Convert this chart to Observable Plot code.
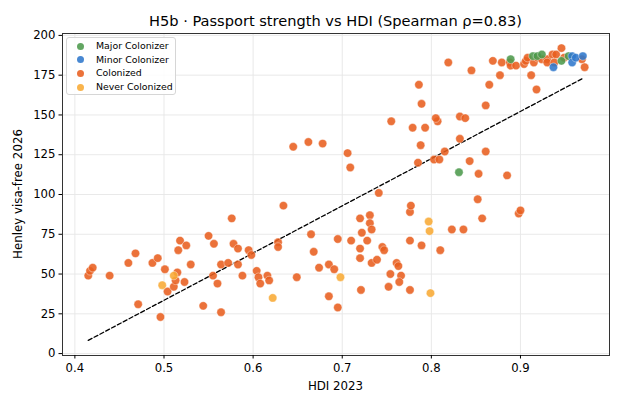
<!DOCTYPE html>
<html>
<head>
<meta charset="utf-8">
<script src="https://cdn.jsdelivr.net/npm/d3@7"></script>
<script src="https://cdn.jsdelivr.net/npm/@observablehq/plot@0.6"></script>
<style>
  html, body { margin: 0; padding: 0; background: #fff; }
  #wrap { position: relative; width: 620px; height: 407px; font-family: "DejaVu Sans", sans-serif; color: #000; }
  #title { position: absolute; left: 335.5px; top: 20px; transform: translate(-50%, -50%); font-size: 14.6px; white-space: nowrap; }
  #chart { position: absolute; left: 0; top: 28px; }
  #xlab { position: absolute; left: 335.5px; top: 386px; transform: translate(-50%, -50%); font-size: 11.8px; white-space: nowrap; }
  #ylab { position: absolute; left: 18px; top: 194px; transform: translate(-50%, -50%) rotate(-90deg); font-size: 11.8px; white-space: nowrap; }
  #legend { position: absolute; left: 66px; top: 37px; width: 110px; height: 58px; box-sizing: border-box; border: 1px solid #d6d6d6; border-radius: 3px; background: rgba(255,255,255,0.85); font-size: 9.4px; }
  .row { position: absolute; left: 0; height: 12px; line-height: 12px; white-space: nowrap; }
  .sw { position: absolute; left: 10px; top: 2.5px; width: 7px; height: 7px; border-radius: 50%; opacity: 0.88; }
  .lt { position: absolute; left: 29px; top: 0; }
</style>
</head>
<body>
<div id="wrap">
  <div id="title">H5b · Passport strength vs HDI (Spearman ρ=0.83)</div>
  <div id="chart"></div>
  <div id="xlab">HDI 2023</div>
  <div id="ylab">Henley visa-free 2026</div>
  <div id="legend"></div>
</div>
<script>
// ---- data ----
const groups = ["Major Colonizer", "Minor Colonizer", "Colonized", "Never Colonized"];
const groupColors = ["#4c9a4c", "#2f78cc", "#e85f1f", "#f8aa34"];

const hdiMajor  = [0.889, 0.914, 0.919, 0.924, 0.946, 0.954, 0.831];
const visaMajor = [185, 187, 187, 188, 184, 187, 114];

const hdiMinor  = [0.937, 0.958, 0.958, 0.962, 0.970];
const visaMinor = [180, 187, 183, 186, 187];

const hdiNever  = [0.498, 0.511, 0.622, 0.698, 0.797, 0.798, 0.799];
const visaNever = [43, 49, 35, 48, 83, 77, 38];

const hdiColonized = [
  0.415, 0.417, 0.420, 0.439, 0.460, 0.468, 0.471, 0.487, 0.493, 0.496,
  0.501, 0.504, 0.511, 0.513, 0.515, 0.516, 0.518, 0.525, 0.523, 0.530,
  0.544, 0.550, 0.556, 0.555, 0.560, 0.564, 0.564, 0.572, 0.576, 0.578,
  0.583, 0.583, 0.588, 0.595, 0.598, 0.604, 0.606, 0.608,
  0.645, 0.662, 0.678, 0.706, 0.709, 0.634, 0.628, 0.628, 0.616, 0.618,
  0.649, 0.665, 0.668, 0.674, 0.685, 0.691, 0.685, 0.695, 0.695, 0.710,
  0.720, 0.722, 0.720, 0.720, 0.721, 0.728, 0.731, 0.731, 0.733, 0.741,
  0.733, 0.739, 0.745, 0.747, 0.754, 0.752, 0.761, 0.763, 0.766, 0.764,
  0.776, 0.776, 0.776, 0.777, 0.789, 0.785, 0.788, 0.779, 0.793, 0.755,
  0.807, 0.803, 0.809, 0.810,
  0.823, 0.836, 0.857, 0.852, 0.898, 0.900,
  0.815, 0.861, 0.843, 0.853, 0.885,
  0.786, 0.789, 0.805, 0.832, 0.838, 0.832, 0.861, 0.865, 0.877, 0.912, 0.918,
  0.819, 0.845, 0.869, 0.879, 0.888, 0.889, 0.895, 0.904, 0.906, 0.908,
  0.915, 0.919, 0.924, 0.930, 0.930, 0.936, 0.940, 0.946, 0.938, 0.949,
  0.969, 0.972
];
const visaColonized = [
  49, 52, 54, 49, 57, 63, 31, 57, 60, 23,
  53, 39, 42, 46, 51, 65, 71, 68, 45, 56,
  30, 74, 69, 49, 44, 26, 56, 57, 85, 69,
  66, 56, 49, 65, 62, 52, 48, 44,
  130, 133, 132, 126, 117, 93, 70, 67, 49, 46,
  48, 75, 64, 54, 56, 53, 36, 29, 72, 71,
  85, 76, 66, 60, 40, 71, 87, 82, 78, 101,
  57, 59, 67, 65, 50, 42, 57, 55, 49, 45,
  40, 71, 89, 93, 68, 120, 131, 142, 142, 146,
  146, 122, 122, 65,
  78, 78, 85, 97, 88, 90,
  127, 127, 121, 113, 112,
  169, 157, 148, 149, 148, 135, 156, 169, 175, 175, 166,
  183, 178, 184, 183, 183, 181, 181, 182, 184, 186,
  183, 186, 185, 185, 183, 188, 188, 192, 183, 186,
  185, 180
];

// dashed fit line end points
const fitHdi  = [0.415, 0.970];
const fitVisa = [8.3, 173];

const xTicks = [0.4, 0.5, 0.6, 0.7, 0.8, 0.9];
const yTicks = [0, 25, 50, 75, 100, 125, 150, 175, 200];

// ---- build tables ----
const zip = (xs, ys, g) => xs.map((x, i) => ({hdi: x, visa: ys[i], group: g}));
const points = [
  ...zip(hdiColonized, visaColonized, groups[2]),
  ...zip(hdiNever, visaNever, groups[3]),
  ...zip(hdiMajor, visaMajor, groups[0]),
  ...zip(hdiMinor, visaMinor, groups[1])
];
const fit = fitHdi.map((x, i) => ({hdi: x, visa: fitVisa[i]}));

const chart = Plot.plot({
  width: 620,
  height: 379,
  marginTop: 5,
  marginBottom: 52,
  marginLeft: 62,
  marginRight: 11,
  style: {fontFamily: "DejaVu Sans, sans-serif", fontSize: "11.7px", color: "#000", background: "transparent", overflow: "visible"},
  x: {domain: [0.3861, 0.9999]},
  y: {domain: [-1.2, 201.2]},
  color: {domain: groups, range: groupColors},
  marks: [
    Plot.gridX(xTicks, {stroke: "#e6e6e6", strokeOpacity: 1, strokeWidth: 0.9}),
    Plot.gridY(yTicks, {stroke: "#e6e6e6", strokeOpacity: 1, strokeWidth: 0.9}),
    Plot.line(fit, {x: "hdi", y: "visa", stroke: "#000", strokeWidth: 1.3, strokeDasharray: "4.2,2.4"}),
    Plot.dot(points, {x: "hdi", y: "visa", fill: "group", r: 4.2, fillOpacity: 0.88, stroke: "#fff", strokeWidth: 0.5, strokeOpacity: 0.8}),
    Plot.frame({stroke: "#333", strokeWidth: 1}),
    Plot.axisX(xTicks, {tickSize: 3.5, tickPadding: 4.5, tickFormat: d => d.toFixed(1), label: null}),
    Plot.axisY(yTicks, {tickSize: 3.5, tickPadding: 3.5, tickFormat: d => String(d), label: null})
  ]
});
document.getElementById("chart").appendChild(chart);

// legend
const leg = document.getElementById("legend");
groups.forEach((g, i) => {
  const row = document.createElement("div");
  row.className = "row";
  row.style.top = (2 + i * 13.7) + "px";
  const sw = document.createElement("div");
  sw.className = "sw";
  sw.style.background = groupColors[i];
  const t = document.createElement("div");
  t.className = "lt";
  t.textContent = g;
  row.appendChild(sw);
  row.appendChild(t);
  leg.appendChild(row);
});
</script>
</body>
</html>
